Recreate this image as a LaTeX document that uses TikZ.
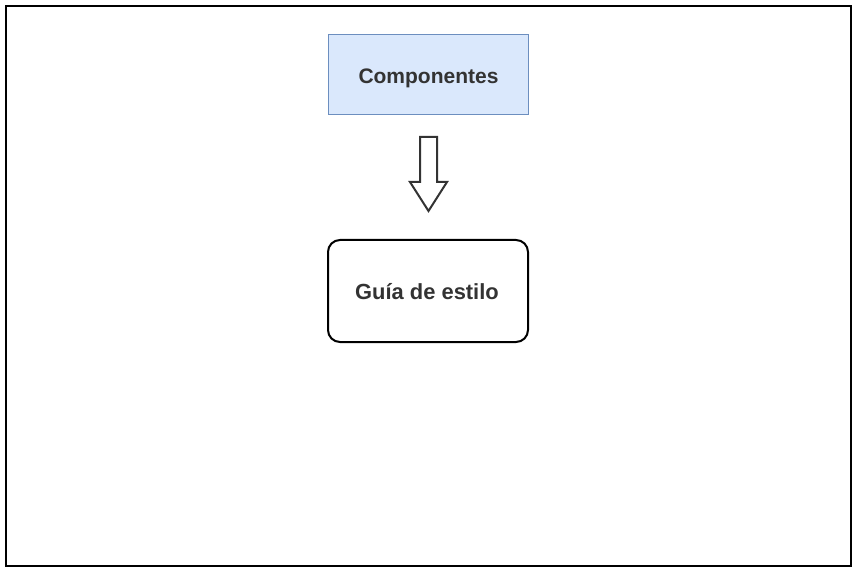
\documentclass[tikz,border=0pt]{standalone}
\usepackage{fontspec}
\setmainfont{Liberation Sans}
\definecolor{txt}{HTML}{333333}
\definecolor{bluefill}{HTML}{DAE8FC}
\definecolor{blueline}{HTML}{6C8EBF}
\begin{document}
\begin{tikzpicture}[x=1pt,y=-1pt,
  lbl/.style={font=\fontsize{21}{25}\selectfont\bfseries, text=txt},
  biglbl/.style={font=\fontsize{21.9}{26}\selectfont\bfseries, text=txt},
  compbox/.style={draw=blueline, fill=bluefill, line width=1pt, minimum width=200pt, minimum height=80pt},
  guidebox/.style={draw=black, line width=2pt, rounded corners=12pt, minimum width=200pt, minimum height=102pt},
  blockarrow/.style={draw=txt, line width=2pt, fill=white, line join=miter}]
\useasboundingbox (0,0) rectangle (857,572);
\draw[line width=2pt] (6,6) rectangle (851,566);
\node[compbox] (comp) at (428,75) {};
\node[lbl] (complbl) at (428.5,78) {Componentes};
\node[guidebox] (guide) at (428,291) {};
\node[biglbl] (guidelbl) at (427,292) {Guía de estilo};
\draw[blockarrow] (420,137) -- (437,137) -- (437,182) -- (447,182) -- (428.5,211) -- (410,182) -- (420,182) -- cycle;
\end{tikzpicture}
\end{document}
